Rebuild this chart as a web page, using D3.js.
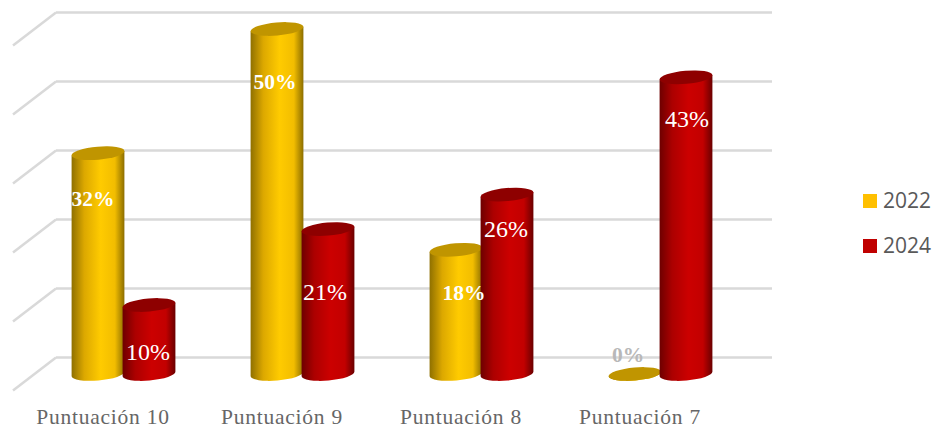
<!DOCTYPE html>
<html>
<head>
<meta charset="utf-8">
<title>Puntuación</title>
<style>
html, body { margin: 0; padding: 0; background: #fff; }
svg { display: block; }
.grid line { stroke: #d9d9d9; stroke-width: 2.5px; }
.cat { fill: #666; font: 21.5px "Liberation Serif", serif; letter-spacing: 0.75px; text-anchor: middle; }
.val { font-family: "Liberation Serif", serif; text-anchor: middle; dominant-baseline: central; }
.legend text { fill: #595959; font: 21px "Open Sans", sans-serif; }
</style>
</head>
<body>
<script src="https://cdn.jsdelivr.net/npm/d3@7"></script>
<script>

var categories = ["Puntuación 10", "Puntuación 9", "Puntuación 8", "Puntuación 7"];
var years = ["2022", "2024"];
var values2022 = [32, 50, 18, 0];
var values2024 = [10, 21, 26, 43];
var ticks = [0, 10, 20, 30, 40, 50];

var width = 932, height = 429;

// floor is drawn in fake perspective: bars stand halfway between front and back
var depthX = 21.5, depthY = 16.5;
var rx = 26.5, ry = 6.5, tilt = -5;
var cosT = Math.cos(tilt * Math.PI / 180), sinT = Math.sin(tilt * Math.PI / 180);

var x = d3.scaleBand().domain(categories).range([34.5, 750.5]);
var xInner = d3.scaleBand().domain(years).range([38, 140]);
var y = d3.scaleLinear().domain([0, 50]).range([374, 29]);

var colors = {
  "2022": {top: "#c09500", legend: "#ffc000", stops: ["#8f7000", "#dca800", "#ffcb00", "#f2bd00", "#8c6e00"]},
  "2024": {top: "#8e0000", legend: "#c00000", stops: ["#6e0000", "#ac0000", "#cc0000", "#c20000", "#6a0000"]}
};
var stopAt = ["0%", "24%", "55%", "82%", "100%"];

// hand placed so the text clears the neighbouring bar, [dx, dy] from the top of each bar
var labelShift2022 = [[-5, 46], [-2, 53], [8, 43], [-7, -19]];
var labelShift2024 = [[-1, 47], [-3, 63], [-1, 34], [1, 42]];

var svg = d3.select("body").append("svg")
    .attr("width", width)
    .attr("height", height);

var defs = svg.append("defs");
years.forEach(function(yr) {
  var grad = defs.append("linearGradient").attr("id", "cyl" + yr);
  colors[yr].stops.forEach(function(c, i) {
    grad.append("stop").attr("offset", stopAt[i]).attr("stop-color", c);
  });
});

// gridlines: back wall plus the short diagonal on the side wall
var grid = svg.append("g").attr("class", "grid");
var x0 = x.range()[0], x1 = x.range()[1];
grid.selectAll(".back").data(ticks).enter().append("line")
    .attr("class", "back")
    .attr("x1", x0 + depthX).attr("x2", x1 + depthX)
    .attr("y1", function(d) { return y(d) - depthY; })
    .attr("y2", function(d) { return y(d) - depthY; });
grid.selectAll(".side").data(ticks).enter().append("line")
    .attr("class", "side")
    .attr("x1", x0 - depthX).attr("x2", x0 + depthX)
    .attr("y1", function(d) { return y(d) + depthY; })
    .attr("y2", function(d) { return y(d) - depthY; });

function bodyPath(cx, top, base) {
  var dx = rx * cosT, dy = rx * sinT;
  return "M" + (cx - dx) + "," + (top - dy) +
      "L" + (cx - dx) + "," + (base - dy) +
      "A" + rx + "," + ry + " " + tilt + " 0 0 " + (cx + dx) + "," + (base + dy) +
      "L" + (cx + dx) + "," + (top + dy) + "Z";
}

var rows = [];
categories.forEach(function(c, i) {
  rows.push({cat: c, yr: "2022", value: values2022[i], shift: labelShift2022[i]});
  rows.push({cat: c, yr: "2024", value: values2024[i], shift: labelShift2024[i]});
});

function cx(d) { return x(d.cat) + xInner(d.yr) + xInner.bandwidth() / 2; }

var bars = svg.selectAll(".bar").data(rows).enter().append("g").attr("class", "bar");
bars.append("path")
    .attr("d", function(d) { return bodyPath(cx(d), y(d.value), y(0)); })
    .attr("fill", function(d) { return "url(#cyl" + d.yr + ")"; });
bars.append("ellipse")
    .attr("rx", rx).attr("ry", ry)
    .attr("transform", function(d) { return "translate(" + cx(d) + "," + y(d.value) + ") rotate(" + tilt + ")"; })
    .attr("fill", function(d) { return colors[d.yr].top; });

svg.selectAll(".val").data(rows).enter().append("text")
    .attr("class", "val")
    .attr("x", function(d) { return cx(d) + d.shift[0]; })
    .attr("y", function(d) { return y(d.value) + d.shift[1]; })
    .attr("fill", function(d) { return d.value === 0 ? "#b8b8b8" : "#fff"; })
    .style("font-size", function(d) { return d.yr === "2022" ? "21.5px" : "24px"; })
    .style("font-weight", function(d) { return d.yr === "2022" ? "bold" : "normal"; })
    .text(function(d) { return d.value + "%"; });

svg.selectAll(".cat").data(categories).enter().append("text")
    .attr("class", "cat")
    .attr("x", function(d) { return x(d) + x.bandwidth() / 2 - 21; })
    .attr("y", 424)
    .text(function(d) { return d; });

var legend = svg.selectAll(".legend").data(years).enter().append("g")
    .attr("class", "legend")
    .attr("transform", function(d, i) { return "translate(863," + (194 + i * 45) + ")"; });
legend.append("rect")
    .attr("width", 14).attr("height", 14)
    .attr("fill", function(d) { return colors[d].legend; });
legend.append("text")
    .attr("x", 20).attr("y", 14)
    .text(function(d) { return d; });

</script>
</body>
</html>
